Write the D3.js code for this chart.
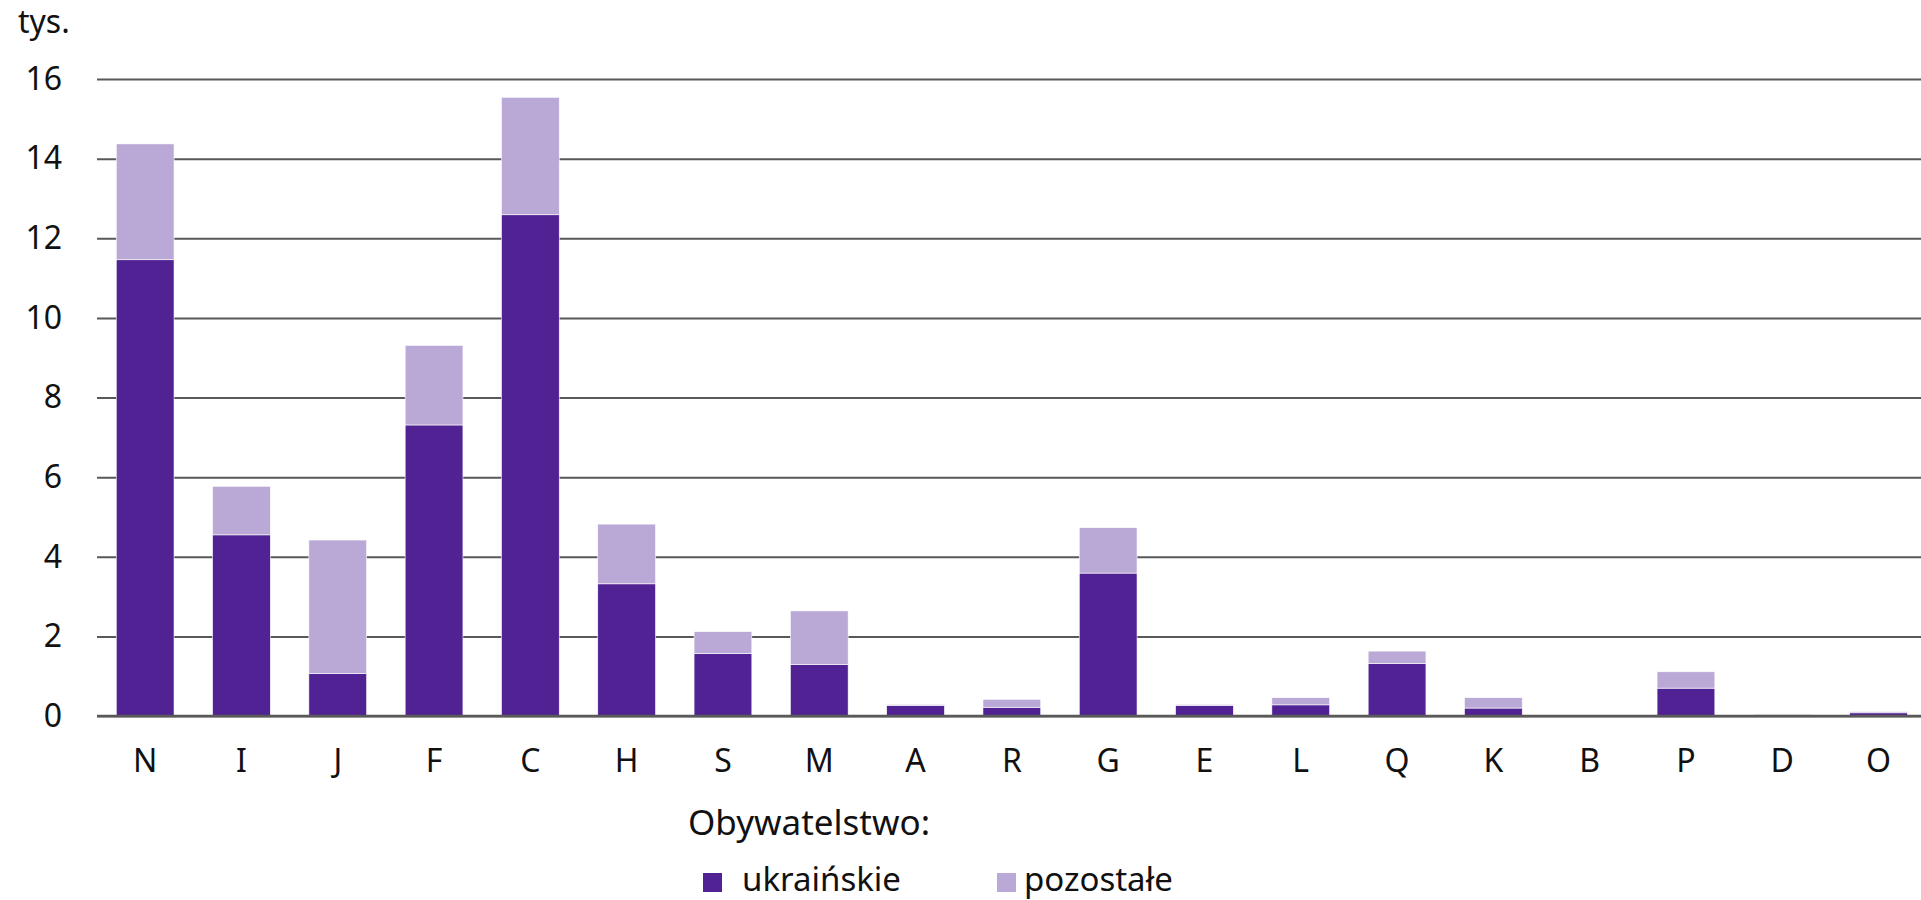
<!DOCTYPE html>
<html>
<head>
<meta charset="utf-8">
<style>
  body { margin: 0; background: #fff; }
  text { font-family: "Noto Sans", sans-serif; fill: #111; }
</style>
</head>
<body>
<script src="https://cdn.jsdelivr.net/npm/d3@7"></script>
<script>
// values in thousands
var categories = ['N','I','J','F','C','H','S','M','A','R','G','E','L','Q','K','B','P','D','O'];
var ukrainskie = [11.46, 4.55, 1.07, 7.31, 12.59, 3.32, 1.57, 1.29, 0.26, 0.22, 3.59, 0.26, 0.28, 1.32, 0.20, 0.00, 0.70, 0.01, 0.08];
var pozostale  = [2.91, 1.22, 3.35, 2.00, 2.95, 1.50, 0.55, 1.35, 0.03, 0.20, 1.14, 0.03, 0.18, 0.31, 0.26, 0.00, 0.41, 0.03, 0.03];
var yTicks = [0, 2, 4, 6, 8, 10, 12, 14, 16];
var seriesNames = ['ukraińskie', 'pozostałe'];
var seriesColors = ['#512293', '#baa8d6'];

var width = 1921, height = 900;
var svg = d3.select('body').append('svg')
    .attr('width', width).attr('height', height);

var x = d3.scaleBand()
    .domain(categories)
    .range([97, 97 + 19 * 96.3])
    .paddingInner(0.4)
    .paddingOuter(0.2);

var y = d3.scaleLinear()
    .domain([0, 16])
    .range([716, 79]);

// gridlines + y labels
var yAxis = svg.append('g')
    .attr('transform', 'translate(97,0)')
    .call(d3.axisLeft(y).tickValues(yTicks).tickSize(-(width - 97)).tickPadding(35));
yAxis.select('.domain').remove();
yAxis.selectAll('.tick line').attr('stroke', '#595959').attr('stroke-width', 2);
yAxis.selectAll('.tick text')
    .attr('font-size', 32)
    .attr('fill', '#111')
    .style('font-family', '"Noto Sans", sans-serif');

svg.append('text')
    .attr('x', 18).attr('y', 33)
    .attr('font-size', 32)
    .text('tys.');

// stacked bars
var table = categories.map(function (c, i) {
    return { cat: c, 'ukraińskie': ukrainskie[i], 'pozostałe': pozostale[i] };
});
var stack = d3.stack().keys(seriesNames)(table);

svg.append('g').selectAll('g')
    .data(stack)
    .enter().append('g')
    .attr('fill', function (d, i) { return seriesColors[i]; })
    .selectAll('rect')
    .data(function (d) { return d; })
    .enter().append('rect')
    .attr('x', function (d) { return x(d.data.cat); })
    .attr('y', function (d) { return y(d[1]); })
    .attr('width', x.bandwidth())
    .attr('height', function (d) { return y(d[0]) - y(d[1]); })
    .attr('stroke', '#ffffff')
    .attr('stroke-width', 0.6);

// baseline on top of bars
svg.append('line')
    .attr('x1', 97).attr('x2', width)
    .attr('y1', y(0)).attr('y2', y(0))
    .attr('stroke', '#595959').attr('stroke-width', 2.5);

// category labels
var xAxis = svg.append('g')
    .attr('transform', 'translate(0,' + y(0) + ')')
    .call(d3.axisBottom(x).tickSize(0).tickPadding(33));
xAxis.select('.domain').remove();
xAxis.selectAll('.tick text')
    .attr('font-size', 32)
    .attr('fill', '#111')
    .style('font-family', '"Noto Sans", sans-serif');

// legend
svg.append('text')
    .attr('x', 688).attr('y', 835)
    .attr('font-size', 35)
    .text('Obywatelstwo:');

var legendX = [703, 997], textX = [742, 1024];
var legend = svg.append('g').selectAll('g')
    .data(seriesNames)
    .enter().append('g');
legend.append('rect')
    .attr('x', function (d, i) { return legendX[i]; })
    .attr('y', 873)
    .attr('width', 19).attr('height', 19)
    .attr('fill', function (d, i) { return seriesColors[i]; });
legend.append('text')
    .attr('x', function (d, i) { return textX[i]; })
    .attr('y', 891)
    .attr('font-size', 33)
    .text(function (d) { return d; });
</script>
</body>
</html>
